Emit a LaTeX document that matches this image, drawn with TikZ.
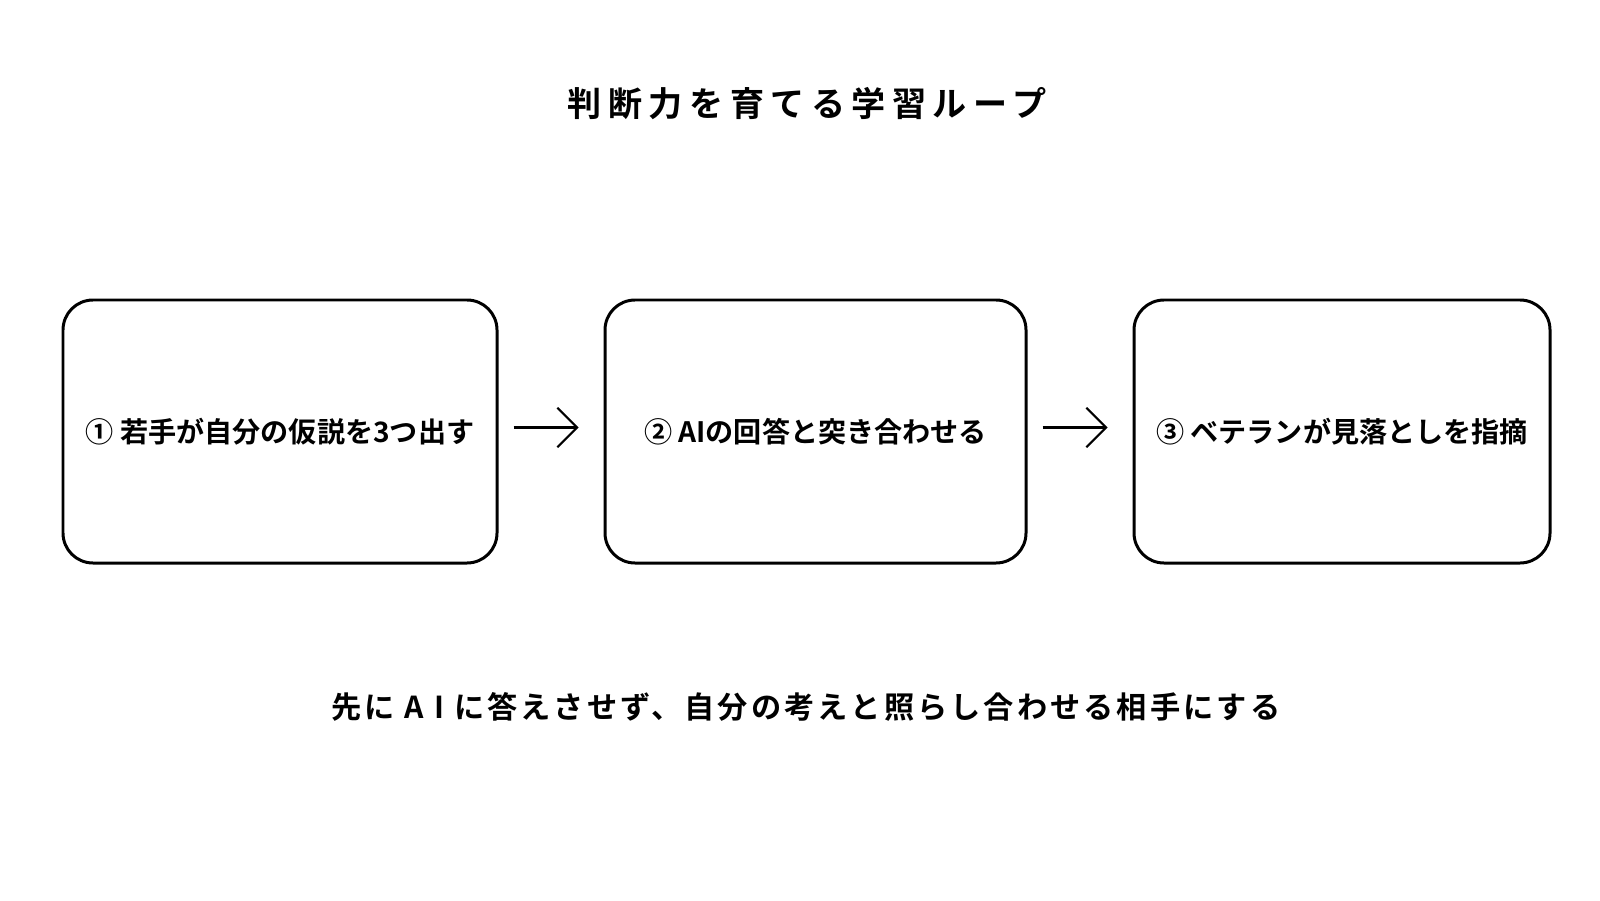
\documentclass[tikz,border=0pt]{standalone}
\usepackage{fontspec}
\newfontfamily\jpfont{Noto Sans CJK JP}[BoldFont={* Bold}]
\usetikzlibrary{arrows.meta,positioning}

\tikzset{
  stepbox/.style={draw=black, line width=0.85pt, rounded corners=0.3cm,
    minimum height=2.63cm, inner sep=0pt,
    font=\jpfont\bfseries\fontsize{8pt}{9.5pt}\selectfont},
  flowarrow/.style={line width=0.6pt, -{Straight Barb[length=5.6pt,width=11.2pt]},
    shorten <=0.15cm, shorten >=0.25cm}
}

\begin{document}
\begin{tikzpicture}
			%%%%% START %%%%%

			\useasboundingbox[fill=white] (0, 0) rectangle (16, 9);

			\node[font=\jpfont\bfseries\fontsize{9.7pt}{11pt}\selectfont\addfontfeature{LetterSpace=19}] (title) at (8.07, 7.96) {判断力を育てる学習ループ};

			\node[stepbox, minimum width=4.34cm] (hypo) at (2.80, 4.685) {① 若手が自分の仮説を3つ出す};
			\node[stepbox, minimum width=4.21cm] (check) at (8.155, 4.685) {② AIの回答と突き合わせる};
			\node[stepbox, minimum width=4.16cm] (review) at (13.42, 4.685) {③ ベテランが見落としを指摘};

			\draw[flowarrow] ([yshift=0.04cm]hypo.east) -- ([yshift=0.04cm]check.west);
			\draw[flowarrow] ([yshift=0.04cm]check.east) -- ([yshift=0.04cm]review.west);

			\node[font=\jpfont\bfseries\fontsize{8.6pt}{10pt}\selectfont\addfontfeature{LetterSpace=10}] (note) at (8.06, 1.93) {先に A I に答えさせず、自分の考えと照らし合わせる相手にする};

			%%%%% END %%%%%
\end{tikzpicture}
\end{document}
